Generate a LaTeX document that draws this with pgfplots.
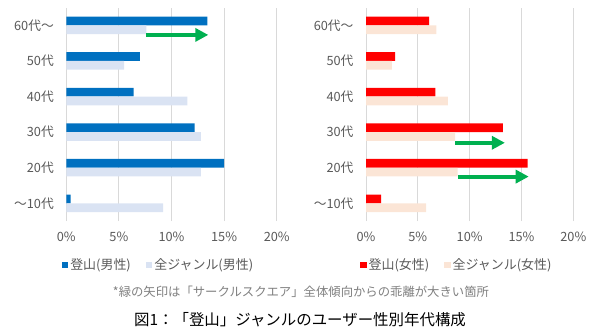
\documentclass[border=0pt]{standalone}
\usepackage{fontspec}
\setmainfont{Noto Sans CJK JP}
\usepackage{pgfplots}
\pgfplotsset{compat=1.18}
\usetikzlibrary{arrows.meta}
\definecolor{mblue}{HTML}{0070C0}
\definecolor{mlight}{HTML}{DAE3F3}
\definecolor{fred}{HTML}{FF0000}
\definecolor{fpeach}{HTML}{FBE5D6}
\definecolor{agreen}{HTML}{00B050}
\definecolor{gridc}{HTML}{D9D9D9}
\definecolor{tickc}{HTML}{595959}
\definecolor{notec}{HTML}{7F7F7F}
\pgfplotsset{
 agebar/.style={
  xbar, scale only axis, height=213.6bp, anchor=north west,
  xmin=0,xmax=20,ymin=-0.5,ymax=5.5,
  bar width=8.7bp,
  xtick={0,5,10,15,20}, xticklabels={0\%,5\%,10\%,15\%,20\%},
  ytick={0,1,2,3,4,5}, yticklabels={～10代,20代,30代,40代,50代,60代～},
  xmajorgrids, major grid style={draw=gridc, line width=0.9bp},
  axis line style={draw=none}, major tick length=0pt,
  tick label style={font=\fontsize{12.8}{14}\selectfont, text=tickc},
  xticklabel style={yshift=-7bp},
  yticklabel style={xshift=-9bp},
  legend style={at={(0.438,-0.206)}, anchor=center, legend columns=2, draw=none, fill=none,
    font=\fontsize{13}{15}\selectfont, text=tickc,
    /tikz/every even column/.append style={column sep=13bp},
    nodes={inner xsep=2bp}},
  legend cell align=left,
  legend image code/.code={\draw[##1,draw=none] (0bp,-3bp) rectangle (6.5bp,3.5bp);},
 }
}
\begin{document}
\begin{tikzpicture}
\useasboundingbox (0,0) rectangle (600bp,-333bp);
\begin{axis}[agebar, at={(66.3bp,-7.5bp)}, width=210.4bp]
\addplot[fill=mblue, draw=none, bar shift=4.4bp] coordinates {(0.4,0) (15.0,1) (12.2,2) (6.4,3) (7.0,4) (13.4,5)};
\addplot[fill=mlight, draw=none, bar shift=-4.4bp] coordinates {(9.2,0) (12.8,1) (12.8,2) (11.5,3) (5.5,4) (7.6,5)};
\legend{登山(男性),全ジャンル(男性)}
\draw[-{Triangle[length=13bp,width=13bp]}, line width=4bp, agreen] (axis cs:7.6,4.73) -- (axis cs:13.5,4.73);
\end{axis}
\begin{axis}[agebar, at={(366bp,-7.5bp)}, width=207.3bp]
\addplot[fill=fred, draw=none, bar shift=4.4bp] coordinates {(1.45,0) (15.6,1) (13.2,2) (6.7,3) (2.8,4) (6.1,5)};
\addplot[fill=fpeach, draw=none, bar shift=-4.4bp] coordinates {(5.8,0) (8.85,1) (8.6,2) (7.9,3) (2.5,4) (6.8,5)};
\legend{登山(女性),全ジャンル(女性)}
\draw[-{Triangle[length=13bp,width=13bp]}, line width=4bp, agreen] (axis cs:8.6,1.70) -- (axis cs:13.4,1.70);
\draw[-{Triangle[length=13bp,width=13bp]}, line width=4bp, agreen] (axis cs:8.9,0.75) -- (axis cs:15.7,0.75);
\end{axis}
\node[text=notec, font=\fontsize{12.4}{14}\selectfont] at (301bp,-292bp) {*緑の矢印は「サークルスクエア」全体傾向からの乖離が大きい箇所};
\node[text=black, font=\fontsize{15.5}{17}\selectfont] at (300bp,-320bp) {図1：「登山」ジャンルのユーザー性別年代構成};
\end{tikzpicture}
\end{document}
